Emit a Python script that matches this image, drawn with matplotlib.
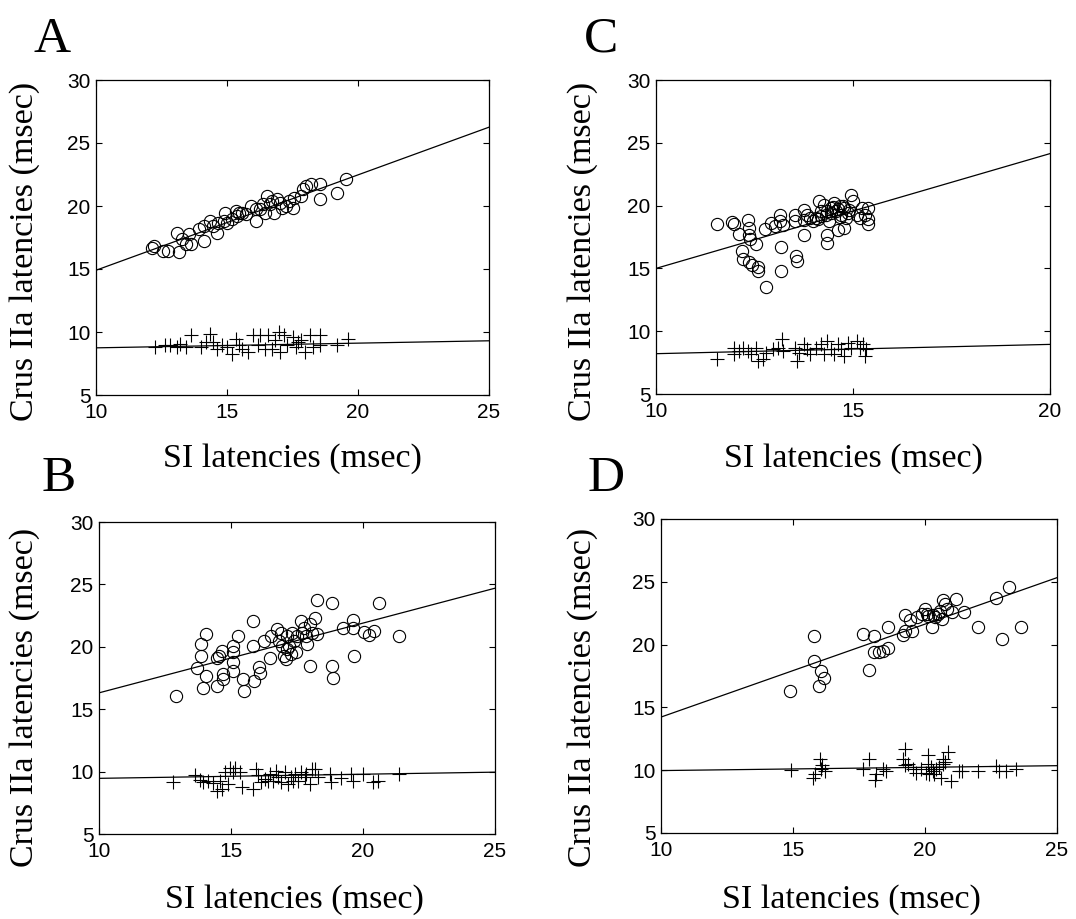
import numpy as np
import matplotlib
matplotlib.use("Agg")
import matplotlib.pyplot as plt

SERIF = ["Liberation Serif", "DejaVu Serif"]
SANS = ["Liberation Sans", "DejaVu Sans"]
plt.rcParams["font.family"] = SANS

# ---------------- data ----------------
# Panel A
a_circ_x = [12.13, 12.20, 12.57, 12.76, 13.09, 13.16, 13.29, 13.42, 13.55, 13.62,
            13.95, 14.14, 14.14, 14.34, 14.47, 14.61, 14.67, 14.87, 14.93, 15.00,
            15.20, 15.33, 15.39, 15.46, 15.59, 15.72, 15.92, 16.12, 16.12, 16.25,
            16.38, 16.45, 16.51, 16.64, 16.71, 16.78, 16.91, 17.04, 17.10, 17.24,
            17.37, 17.50, 17.57, 17.83, 17.89, 18.03, 18.22, 18.55, 18.55, 19.21, 19.54]
a_circ_y = [16.70, 16.85, 16.44, 16.44, 17.89, 16.31, 17.36, 16.97, 17.76, 16.97,
            18.15, 18.42, 17.23, 18.81, 18.42, 17.89, 18.68, 18.81, 19.47, 18.68,
            18.94, 19.60, 19.20, 19.47, 19.47, 19.34, 20.00, 18.81, 19.74, 19.74,
            20.13, 19.47, 20.79, 20.13, 20.40, 19.47, 20.53, 20.26, 19.87, 20.00,
            20.40, 19.87, 20.66, 20.79, 21.32, 21.58, 21.72, 21.72, 20.53, 21.05, 22.11]
a_plus_x = [12.24, 12.63, 12.83, 13.09, 13.22, 13.42, 13.62, 14.01, 14.21, 14.34,
            14.47, 14.61, 14.80, 15.00, 15.20, 15.33, 15.46, 15.59, 15.79, 15.99,
            16.18, 16.25, 16.45, 16.58, 16.71, 16.84, 16.97, 17.04, 17.17, 17.30,
            17.50, 17.63, 17.70, 17.83, 17.96, 18.16, 18.29, 18.55, 18.55, 19.21, 19.61]
a_plus_y = [8.82, 8.95, 8.95, 8.82, 9.08, 8.82, 9.74, 8.82, 9.21, 9.87,
            9.21, 8.68, 8.95, 8.82, 8.29, 9.47, 8.95, 8.68, 8.42, 9.74,
            8.95, 9.74, 8.68, 9.74, 8.68, 9.34, 10.00, 8.42, 9.74, 8.95,
            9.61, 8.82, 9.21, 9.34, 8.42, 9.74, 8.82, 9.74, 8.95, 8.95, 9.47]
a_circ_fit = (0.757, 7.33)   # slope, intercept
a_plus_fit = (0.0373, 8.37)

# Panel C
c_circ_x = [11.55, 11.94, 11.98, 12.11, 12.18, 12.20, 12.33, 12.35, 12.37, 12.39,
            12.37, 12.44, 12.54, 12.59, 12.59, 12.76, 12.78, 12.93, 13.02, 13.15,
            13.15, 13.16, 13.16, 13.23, 13.53, 13.53, 13.56, 13.58, 13.75, 13.75,
            13.75, 13.84, 13.92, 14.05, 14.14, 14.18, 14.27, 14.31, 14.35, 14.35,
            14.40, 14.44, 14.53, 14.57, 14.61, 14.66, 14.70, 14.78, 14.78, 14.83,
            14.91, 14.96, 15.00, 15.09, 15.17, 15.22, 15.30, 15.37, 15.37, 15.37,
            14.35, 14.45, 14.50, 14.62, 14.68, 14.75, 14.88, 14.20, 14.10, 13.98]
c_circ_y = [18.53, 18.69, 18.53, 17.73, 16.39, 15.75, 18.82, 18.21, 17.67, 17.35,
            15.53, 15.27, 16.93, 15.08, 14.79, 18.13, 13.53, 18.61, 18.34, 19.28,
            18.74, 16.74, 14.79, 18.48, 19.28, 18.74, 16.02, 15.59, 19.68, 18.88,
            17.67, 19.28, 19.01, 19.01, 20.40, 19.55, 20.08, 19.28, 17.67, 17.01,
            18.74, 19.81, 20.21, 19.55, 18.08, 19.95, 19.28, 18.21, 19.81, 19.01,
            19.68, 20.88, 20.35, 19.28, 19.01, 19.81, 19.28, 19.81, 18.96, 18.53,
            19.60, 19.40, 19.90, 19.70, 19.10, 20.00, 19.40, 19.20, 18.90, 18.80]
c_plus_x = [11.55, 11.98, 11.98, 12.11, 12.20, 12.33, 12.41, 12.54, 12.59, 12.72,
            12.80, 12.97, 13.10, 13.19, 13.23, 13.53, 13.58, 13.62, 13.75, 13.84,
            13.92, 14.05, 14.18, 14.27, 14.35, 14.44, 14.53, 14.61, 14.70, 14.78,
            14.87, 14.96, 15.09, 15.17, 15.26, 15.30, 15.34]
c_plus_y = [7.76, 8.68, 8.16, 8.42, 8.68, 8.42, 8.16, 8.68, 7.63, 7.76,
            8.29, 8.55, 8.68, 9.34, 8.42, 8.68, 7.63, 8.29, 8.95, 8.55,
            8.16, 8.68, 8.95, 8.16, 9.21, 8.55, 8.16, 8.95, 8.55, 8.03,
            9.08, 8.68, 9.21, 8.68, 8.95, 8.03, 8.55]
c_circ_fit = (0.914, 5.86)
c_plus_fit = (0.074, 7.47)

# Panel B
b_circ_x = [12.90, 13.72, 13.87, 13.87, 13.93, 14.06, 14.06, 14.47, 14.47, 14.55,
            14.66, 14.69, 14.69, 15.06, 15.06, 15.06, 15.06, 15.25, 15.44, 15.48,
            15.84, 15.84, 15.88, 16.07, 16.11, 16.26, 16.47, 16.51, 16.76, 16.82,
            16.89, 16.95, 17.01, 17.07, 17.14, 17.14, 17.20, 17.26, 17.32, 17.39,
            17.45, 17.51, 17.64, 17.70, 17.76, 17.83, 17.89, 18.01, 18.01, 18.08,
            18.20, 18.24, 18.27, 18.83, 18.83, 18.86, 19.23, 19.61, 19.61, 19.65,
            20.03, 20.21, 20.40, 20.59, 21.38]
b_circ_y = [16.02, 18.28, 20.21, 19.28, 16.68, 21.06, 17.64, 16.84, 19.07, 19.28,
            19.68, 17.82, 17.43, 20.08, 19.60, 18.75, 18.09, 20.88, 17.43, 16.42,
            22.07, 20.08, 17.29, 18.36, 17.90, 20.48, 19.07, 20.88, 21.41, 20.48,
            21.14, 20.08, 19.28, 19.02, 20.88, 19.81, 20.08, 19.42, 21.14, 20.48,
            19.55, 20.88, 22.07, 21.14, 21.54, 20.88, 20.21, 21.80, 18.49, 21.14,
            22.33, 23.74, 21.01, 23.47, 18.49, 17.48, 21.48, 22.15, 21.54, 19.28,
            21.19, 20.93, 21.27, 23.53, 20.88]
b_plus_x = [12.82, 13.64, 13.83, 13.95, 14.14, 14.33, 14.46, 14.58, 14.65, 14.77,
            14.90, 14.96, 15.09, 15.15, 15.34, 15.40, 15.83, 15.96, 16.02, 16.15,
            16.27, 16.41, 16.47, 16.60, 16.72, 16.79, 16.91, 17.04, 17.17, 17.29,
            17.42, 17.54, 17.67, 17.80, 17.99, 18.05, 18.18, 18.30, 18.75, 18.80,
            19.18, 19.56, 19.62, 20.00, 20.38, 20.57, 21.38, 17.35, 17.85]
b_plus_y = [9.18, 9.73, 9.35, 9.13, 9.27, 9.08, 8.45, 9.27, 8.59, 9.95,
            8.99, 10.27, 9.95, 10.27, 9.95, 8.80, 8.64, 10.22, 9.73, 9.18,
            9.40, 9.27, 9.81, 9.27, 10.08, 9.54, 9.13, 9.95, 8.99, 9.54,
            9.81, 9.27, 9.95, 9.54, 8.99, 10.22, 10.22, 9.54, 9.81, 9.13,
            9.46, 9.81, 9.27, 9.81, 9.13, 9.27, 9.81, 9.27, 9.81]
b_circ_fit = (0.559, 10.72)
b_plus_fit = (0.033, 9.13)

# Panel D
d_circ_x = [14.89, 15.78, 15.78, 16.00, 16.07, 16.19, 17.67, 17.89, 18.08, 18.08,
            18.27, 18.40, 18.58, 18.58, 19.18, 19.24, 19.24, 19.43, 19.50, 19.69,
            19.88, 20.00, 20.06, 20.13, 20.25, 20.32, 20.38, 20.50, 20.57, 20.63,
            20.67, 20.76, 20.82, 21.01, 21.17, 21.49, 21.99, 22.69, 22.90, 23.19, 23.63]
d_circ_y = [16.30, 20.66, 18.73, 16.69, 17.88, 17.35, 20.85, 17.94, 20.71, 19.44,
            19.39, 19.52, 19.71, 21.38, 20.77, 22.35, 21.11, 21.98, 21.11, 22.17,
            22.43, 22.83, 22.43, 22.30, 21.38, 22.35, 22.17, 22.43, 22.70, 22.04,
            23.57, 23.23, 22.83, 22.57, 23.62, 22.62, 21.38, 23.68, 20.45, 24.55, 21.38]
d_plus_x = [14.94, 15.76, 15.82, 16.02, 16.08, 16.07, 16.20, 17.65, 17.86, 18.09,
            18.15, 18.40, 18.53, 19.18, 19.24, 19.24, 19.35, 19.53, 19.66, 19.85,
            20.04, 20.11, 20.13, 20.16, 20.23, 20.29, 20.35, 20.42, 20.54, 20.60,
            20.67, 20.69, 20.76, 20.88, 20.98, 21.30, 21.42, 22.00, 22.68, 22.81,
            23.06, 23.44]
d_plus_y = [10.00, 9.39, 9.72, 10.93, 10.40, 10.08, 9.94, 10.08, 10.93, 9.25,
            9.67, 10.08, 9.94, 10.93, 11.72, 10.40, 10.50, 10.08, 9.81, 10.08,
            9.81, 10.50, 11.19, 9.67, 10.22, 9.94, 9.67, 10.08, 10.22, 9.39,
            10.50, 10.93, 10.66, 11.45, 9.11, 9.94, 9.94, 9.94, 10.36, 9.94,
            9.94, 10.08]
d_circ_fit = (0.74, 6.83)
d_plus_fit = (0.026, 9.71)

y_ticks = [5, 10, 15, 20, 25, 30]
x_label = "SI latencies (msec)"
y_label = "Crus IIa latencies (msec)"

# ---------------- figure ----------------
W, H = 1076, 919
fig = plt.figure(figsize=(W / 100, H / 100), dpi=100)


def px_rect(x0, y0, x1, y1):
    return [x0 / W, 1 - y1 / H, (x1 - x0) / W, (y1 - y0) / H]


def panel(box, xlim, xticks, cx, cy, px, py, cfit, pfit, letter, letter_xy, xlab_xy, ylab_xy):
    ax = fig.add_axes(px_rect(*box))
    ax.plot(cx, cy, linestyle="none", marker="o", ms=8.8, mfc="none",
            mec="black", mew=0.8)
    ax.plot(px, py, linestyle="none", marker="+", ms=9.5, color="black", mew=0.8)
    xs = np.array(xlim, dtype=float)
    ax.plot(xs, cfit[0] * xs + cfit[1], color="black", lw=0.9)
    ax.plot(xs, pfit[0] * xs + pfit[1], color="black", lw=0.9)
    ax.set_xlim(*xlim)
    ax.set_ylim(5, 30)
    ax.set_xticks(xticks)
    ax.set_yticks(y_ticks)
    ax.tick_params(direction="in", top=True, right=True, length=4, width=0.8,
                   labelsize=15)
    ax.tick_params(axis="x", pad=6)
    ax.tick_params(axis="y", pad=4)
    for lab in ax.get_xticklabels() + ax.get_yticklabels():
        lab.set_family(SANS)
    for s in ax.spines.values():
        s.set_linewidth(0.9)
    ax.set_xlabel(x_label, fontsize=24.5, family=SERIF, va="center", ha="center")
    ax.xaxis.set_label_coords(xlab_xy[0] / W, 1 - xlab_xy[1] / H, transform=fig.transFigure)
    ax.set_ylabel(y_label, fontsize=24.5, family=SERIF, va="center", ha="center")
    ax.yaxis.set_label_coords(ylab_xy[0] / W, 1 - ylab_xy[1] / H, transform=fig.transFigure)
    fig.text(letter_xy[0] / W, 1 - letter_xy[1] / H, letter, fontsize=37,
             family=SERIF, ha="left", va="baseline")
    return ax


panel((96, 80, 489, 395), (10, 25), [10, 15, 20, 25],
      a_circ_x, a_circ_y, a_plus_x, a_plus_y, a_circ_fit, a_plus_fit,
      "A", (33, 52), (292, 459), (25, 251))
panel((656, 80, 1050, 394), (10, 20), [10, 15, 20],
      c_circ_x, c_circ_y, c_plus_x, c_plus_y, c_circ_fit, c_plus_fit,
      "C", (584, 52), (853, 459), (583, 251))
panel((99, 522, 495, 834), (10, 25), [10, 15, 20, 25],
      b_circ_x, b_circ_y, b_plus_x, b_plus_y, b_circ_fit, b_plus_fit,
      "B", (42, 491), (294, 900), (25, 697))
panel((661, 519, 1057, 833), (10, 25), [10, 15, 20, 25],
      d_circ_x, d_circ_y, d_plus_x, d_plus_y, d_circ_fit, d_plus_fit,
      "D", (588, 491), (851, 900), (583, 697))

fig.savefig("out.png", dpi=100)
